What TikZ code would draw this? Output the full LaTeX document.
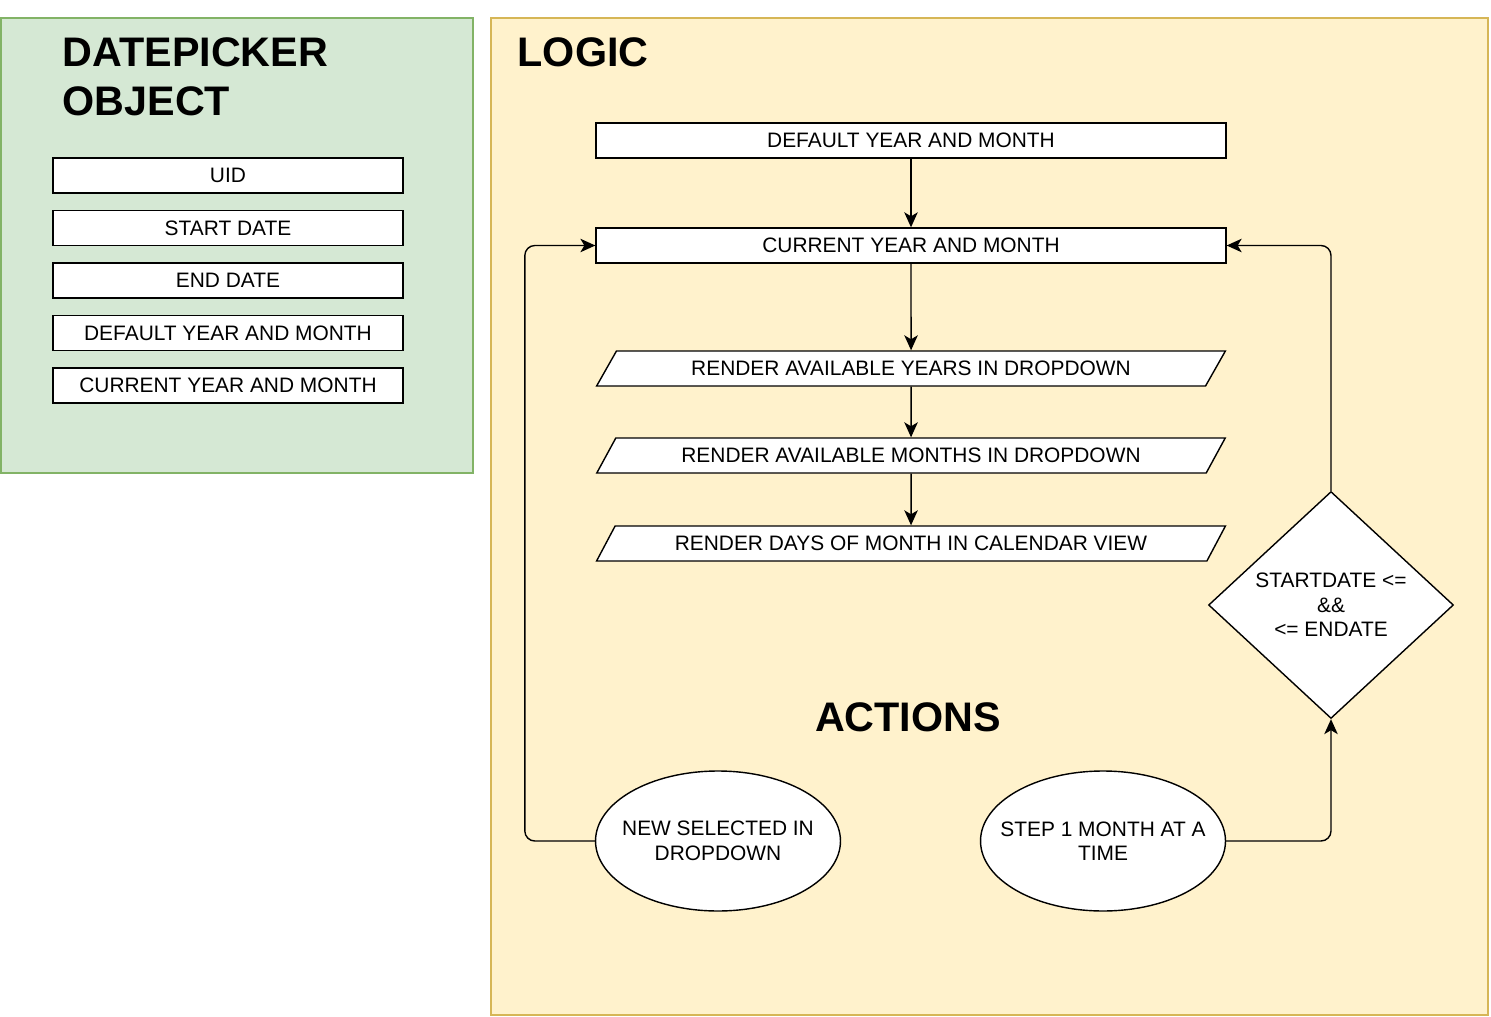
\documentclass[tikz,border=0pt]{standalone}
\usepackage{fontspec}
\setmainfont{Liberation Sans}
\usepackage{tikz}
\usetikzlibrary{shapes, arrows, arrows.meta}
\usetikzlibrary{positioning}

\definecolor{greenfill}{HTML}{D5E8D4}
\definecolor{greenline}{HTML}{82B366}
\definecolor{yellowfill}{HTML}{FFF2CC}
\definecolor{yellowline}{HTML}{D6B656}

\tikzset{
  field/.style={draw, fill=white, rectangle, minimum width=7cm, minimum height=0.7cm, inner sep=0pt},
  stepbox/.style={draw, fill=white, rectangle, minimum width=12.6cm, minimum height=0.7cm, inner sep=0pt},
  render/.style={draw, fill=white, trapezium, trapezium left angle=45, trapezium right angle=135,
    trapezium stretches=true, minimum width=12.6cm, minimum height=0.7cm, inner sep=0pt},
  action/.style={draw, fill=white, ellipse, minimum width=4.9cm, minimum height=2.8cm,
    inner xsep=-0.45cm, inner ysep=0pt, align=center},
  title/.style={font=\fontsize{23.5}{28}\bfseries\selectfont, inner sep=0pt},
  flow/.style={-{Stealth[length=0.3cm, width=0.27cm, inset=0.08cm]}}
}

\begin{document}
\begin{tikzpicture}[x=0.02cm, y=-0.02cm, node distance=1.05cm, line width=0.8pt,
  font=\fontsize{11.9}{13.9}\selectfont]
\useasboundingbox (0,0) rectangle (1491,1017);
% frames
\draw[greenline, fill=greenfill] (1,18) rectangle (473,473);
\draw[yellowline, fill=yellowfill] (491,18) rectangle (1488,1015);

% datepicker object
\node[title, anchor=west, align=left] (dpobj) at (62,77) {DATEPICKER\\OBJECT};
\node[field] (uid) at (228,175.5) {UID};
\node[field] (start) [below of=uid] {START DATE};
\node[field] (end) [below of=start] {END DATE};
\node[field] (dflt) [below of=end] {DEFAULT YEAR AND MONTH};
\node[field] (curr) [below of=dflt] {CURRENT YEAR AND MONTH};

% logic
\node[title, anchor=west] (logic) at (517,52) {LOGIC};
\node[stepbox] (ldflt) at (911,140.5) {DEFAULT YEAR AND MONTH};
\node[stepbox] (lcur) at (911,245.5) {CURRENT YEAR AND MONTH};
\node[render] (years) at (911,368.5) {RENDER AVAILABLE YEARS IN DROPDOWN};
\node[render] (months) at (911,455.5) {RENDER AVAILABLE MONTHS IN DROPDOWN};
\node[render] (days) at (911,543.5) {RENDER DAYS OF MONTH IN CALENDAR VIEW};
\node[draw, fill=white, diamond, minimum width=4.9cm, minimum height=4.54cm, inner sep=0pt, align=center] (check) at (1331,605) {STARTDATE <=\\\&\&\\<= ENDATE};

% actions
\node[title] (actions) at (908,717) {ACTIONS};
\node[action] (select) at (718,841) {NEW SELECTED IN\\DROPDOWN};
\node[action] (onestep) at (1103,841) {STEP 1 MONTH AT A\\TIME};

\draw[flow] (ldflt) -- (lcur);
\draw[flow] (lcur) -- (years);
\draw[flow] (years) -- (months);
\draw[flow] (months) -- (days);
\draw[flow, rounded corners=0.2cm] (select.west) -- ++(-70,0) |- (lcur.west);
\draw[flow, rounded corners=0.2cm] (onestep.east) -| (check.south);
\draw[flow, rounded corners=0.2cm] (check.north) |- (lcur.east);
\end{tikzpicture}
\end{document}
